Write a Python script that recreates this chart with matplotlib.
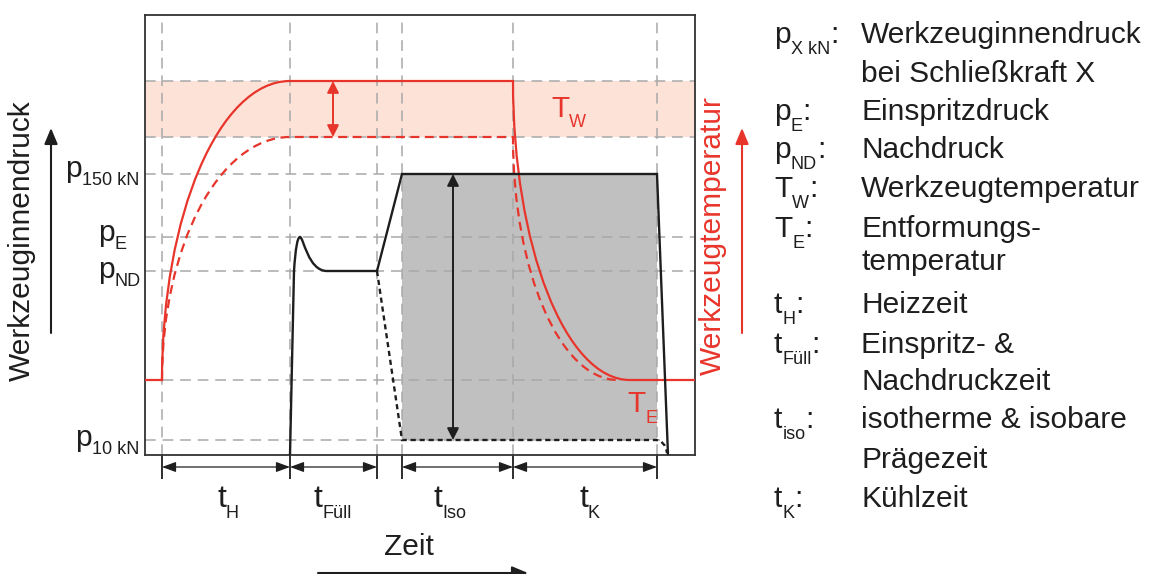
import matplotlib.pyplot as plt
from matplotlib.path import Path
from matplotlib.patches import PathPatch, Rectangle, FancyArrowPatch

plt.rcParams['font.family'] = ['Liberation Sans', 'DejaVu Sans']

W, H, DPI = 1150, 574, 100
RED = '#e8352b'
INK = '#1e1e1e'
GRID = '#a8a8a8'
GRID_LS = (0, (7, 4.5))

# --- schematic values (box units: 550 wide, 440 high) ---
t_marks = [17, 145, 232, 257, 368, 512]   # start heat, start fill, end fill, start iso, start cool, demould
t_demould = 523
t_TE_solid = 485
t_TE_dashed = 473

p_10 = 15
T_E = 75
p_ND = 184
p_E = 218
p_150 = 281
T_W_lo = 318
T_W_hi = 374

# pressure peak during filling
fill_knee = (149, p_ND)
fill_peak = (155, p_E)
fill_flat = 182

# grid levels and how far they run
h_levels = [p_10, T_E, p_ND, p_E, p_150, T_W_lo, T_W_hi]
h_ends = [515, 550, 550, 550, 512, 550, 550]

dims = [(17, 145), (145, 232), (257, 368), (368, 512)]
dim_main = ['t', 't', 't', 't']
dim_sub = ['H', 'Füll', 'Iso', 'K']
dim_x = [217, 314, 434, 579]

ylab_sub = ['150 kN', 'E', 'ND', '10 kN']
ylab_x = [65, 98, 98, 75]
ylab_base = [177, 241, 278, 446]

leg_main = ['p', None, 'p', 'p', 'T', 'T', None, 't', 't', None, 't', None, 't']
leg_sub = ['X kN', None, 'E', 'ND', 'W', 'E', None, 'H', 'Füll', None, 'iso', None, 'K']
leg_text = ['Werkzeuginnendruck', 'bei Schließkraft X', 'Einspritzdruck', 'Nachdruck',
            'Werkzeugtemperatur', 'Entformungs-', 'temperatur', 'Heizzeit',
            'Einspritz- &', 'Nachdruckzeit', 'isotherme & isobare', 'Prägezeit', 'Kühlzeit']
leg_base = [43, 82, 120, 158, 197, 237, 270, 313, 353, 390, 428, 468, 507]

FS = 21.5
SFS = 13
HEAD = '<|-|>,head_length=0.6,head_width=0.22'

fig = plt.figure(figsize=(W / DPI, H / DPI), dpi=DPI)
ax = fig.add_axes([145 / W, 1 - 455 / H, 550 / W, 440 / H])
ax.set_xlim(0, 550)
ax.set_ylim(0, 440)
ax.set_xticks([])
ax.set_yticks([])
for s in ax.spines.values():
    s.set_color('#333333')
    s.set_linewidth(1.3)


def fx(x):
    return x / W


def fy(y):
    return 1 - y / H


def quarter(p0, p1):
    # quarter ellipse, vertical tangent at p0, horizontal at p1
    k = 0.5523
    (x0, y0), (x1, y1) = p0, p1
    return [(x0, y0 + k * (y1 - y0)), (x1 - k * (x1 - x0), y1), (x1, y1)]


# band and gray iso area
ax.axhspan(T_W_lo, T_W_hi, color='#fde2d8', lw=0, zorder=0)
ax.add_patch(Rectangle((t_marks[3], p_10), t_marks[5] - t_marks[3], p_150 - p_10,
                       color='#c0c0c0', lw=0, zorder=1))

# grid
for t in t_marks:
    ax.axvline(t, color=GRID, lw=1.1, ls=GRID_LS, zorder=2)
for lv, e in zip(h_levels, h_ends):
    ax.hlines(lv, 0, e, color=GRID, lw=1.1, linestyles=[GRID_LS], zorder=2)

# temperature curves
v = [(0, T_E), (t_marks[0], T_E)] + quarter((t_marks[0], T_E), (t_marks[1], T_W_hi)) \
    + [(t_marks[4], T_W_hi)] + quarter((t_marks[4], T_W_hi), (t_TE_solid, T_E)) + [(550, T_E)]
c = [Path.MOVETO, Path.LINETO] + [Path.CURVE4] * 3 + [Path.LINETO] + [Path.CURVE4] * 3 + [Path.LINETO]
ax.add_patch(PathPatch(Path(v, c), fill=False, ec=RED, lw=1.6, zorder=4, capstyle='butt'))

v = [(t_marks[0], T_E)] + quarter((t_marks[0], T_E), (t_marks[1], T_W_lo)) \
    + [(t_marks[4], T_W_lo)] + quarter((t_marks[4], T_W_lo), (t_TE_dashed, T_E))
c = [Path.MOVETO] + [Path.CURVE4] * 3 + [Path.LINETO] + [Path.CURVE4] * 3
ax.add_patch(PathPatch(Path(v, c), fill=False, ec=RED, lw=1.6, ls=(0, (4, 2.5)), zorder=4))

# pressure curve
v = [(t_marks[1], 0), fill_knee,
     (fill_knee[0] + 1.5, 207), (fill_peak[0] - 2.5, p_E), fill_peak,
     (fill_peak[0] + 3.5, p_E), (fill_peak[0] + 8, p_ND), (fill_flat, p_ND),
     (t_marks[2], p_ND), (t_marks[3], p_150), (t_marks[5], p_150), (t_demould, 0)]
c = [Path.MOVETO, Path.LINETO] + [Path.CURVE4] * 3 + [Path.CURVE4] * 3 + [Path.LINETO] * 4
ax.add_patch(PathPatch(Path(v, c), fill=False, ec=INK, lw=1.7, zorder=5, joinstyle='miter'))

v = [(t_marks[2], p_ND), (t_marks[3], p_10), (t_marks[5] - 2, p_10),
     (t_marks[5] + 8, p_10), (t_demould - 1, 2)]
c = [Path.MOVETO, Path.LINETO, Path.LINETO, Path.CURVE3, Path.CURVE3]
ax.add_patch(PathPatch(Path(v, c), fill=False, ec=INK, lw=1.7, ls=(0, (2.2, 1.6)), zorder=5))

# double arrows
ax.annotate('', xy=(188, T_W_hi), xytext=(188, T_W_lo),
            arrowprops=dict(arrowstyle='<|-|>,head_length=0.5,head_width=0.25', color=RED,
                            lw=1.4, mutation_scale=14, shrinkA=0, shrinkB=0), zorder=6)
ax.annotate('', xy=(308, p_150), xytext=(308, p_10),
            arrowprops=dict(arrowstyle='<|-|>,head_length=0.5,head_width=0.25', color=INK,
                            lw=1.4, mutation_scale=14, shrinkA=0, shrinkB=0), zorder=6)

# dimension lines below
ax.vlines(t_marks, -24, 0, color=INK, lw=1.3, clip_on=False)
for a, b in dims:
    ax.annotate('', xy=(b, -12), xytext=(a, -12), annotation_clip=False,
                arrowprops=dict(arrowstyle=HEAD, color=INK, lw=0.9, mutation_scale=14,
                                shrinkA=0, shrinkB=0))


def sublabel(x, y, main, sub, size, ssize, drop, color=INK, colon=False):
    t = fig.text(fx(x), fy(y), main, size=size, color=color, va='baseline')
    desc = 0.21 * size * DPI / 72
    s = ax.annotate(sub, xy=(1, 0), xycoords=t, xytext=(0, desc - drop),
                    textcoords='offset pixels', size=ssize, color=color, va='baseline',
                    annotation_clip=False)
    if colon:
        sdesc = 0.21 * ssize * DPI / 72
        ax.annotate(':', xy=(1, 0), xycoords=s, xytext=(0, sdesc + drop),
                    textcoords='offset pixels', size=size, color=color, va='baseline',
                    annotation_clip=False)


for m, sb, x in zip(dim_main, dim_sub, dim_x):
    sublabel(x, 507, m, sb, 23, SFS, 11)

for sb, x, b in zip(ylab_sub, ylab_x, ylab_base):
    sublabel(x, b, 'p', sb, FS, SFS, 8)

sublabel(551, 117, 'T', 'W', FS, SFS, 10, color=RED)
sublabel(627, 412, 'T', 'E', FS, SFS, 11, color=RED)

# legend on the right
for m, sb, txt, b in zip(leg_main, leg_sub, leg_text, leg_base):
    if m:
        sublabel(774, b, m, sb, FS, SFS, 11, colon=True)
    fig.text(fx(861), fy(b), txt, size=FS, color=INK, va='baseline')

# axis titles and arrows
fig.text(fx(22), fy(241), 'Werkzeuginnendruck', size=FS, color=INK, rotation=90,
         ha='center', va='center')
fig.text(fx(713), fy(236), 'Werkzeugtemperatur', size=FS, color=RED, rotation=90,
         ha='center', va='center')
fig.text(fx(409), fy(555), 'Zeit', size=FS, color=INK, ha='center', va='baseline')

for (x0, y0), (x1, y1), col in [((51, 333), (51, 128), INK), ((742, 333), (742, 128), RED),
                                ((318, 573), (528, 573), INK)]:
    fig.add_artist(FancyArrowPatch((fx(x0), fy(y0)), (fx(x1), fy(y1)), transform=fig.transFigure,
                                   arrowstyle='-|>,head_length=0.6,head_width=0.25',
                                   mutation_scale=16, lw=1.5, color=col, shrinkA=0, shrinkB=0))

fig.savefig('out.png', dpi=DPI, facecolor='white')
